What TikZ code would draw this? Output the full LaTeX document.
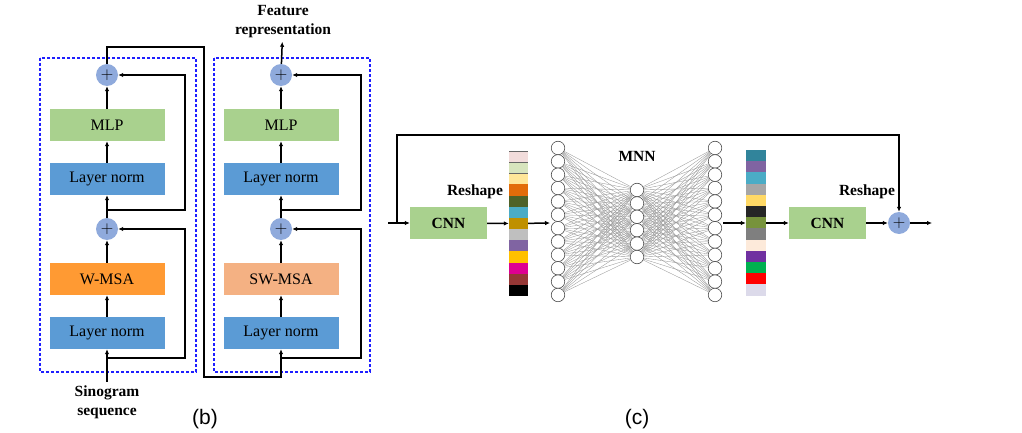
\documentclass[tikz,border=0pt]{standalone}
\usepackage{fontspec}
\setmainfont{Liberation Serif}
\newfontfamily\panelfont{Liberation Sans}
\usetikzlibrary{arrows.meta}

\definecolor{mlpgreen}{HTML}{A9D18E}
\definecolor{normblue}{HTML}{5B9BD5}
\definecolor{wmsaorange}{HTML}{FF9A33}
\definecolor{swmsapeach}{HTML}{F4B183}
\definecolor{plusblue}{HTML}{8FAADC}
\definecolor{winblue}{HTML}{1F1FFF}

\begin{document}
\begin{tikzpicture}
  [x=1pt,y=-1pt,
   box/.style={minimum width=115pt,minimum height=32pt,inner sep=0pt,
     font=\fontsize{16}{18}\selectfont},
   cnnbox/.style={fill=mlpgreen,minimum width=77pt,minimum height=32pt,inner sep=0pt,
     font=\bfseries\fontsize{15.5}{18}\selectfont},
   plus/.style={circle,fill=plusblue,minimum size=22pt,inner sep=0pt,
     font=\fontsize{16}{18}\selectfont},
   boldtext/.style={align=center,font=\bfseries\fontsize{15.5}{19}\selectfont},
   window/.style={draw=winblue,line width=1.8pt,dash pattern=on 3pt off 2pt},
   conn/.style={line width=1.5pt,-{Latex[length=5pt,width=4.5pt]}},
   neuron/.style={circle,draw=black!70,fill=white,minimum size=13.5pt,inner sep=0pt,line width=0.6pt},
   edge/.style={draw=black!40,line width=0.35pt},
   panel/.style={font=\panelfont\fontsize{21}{24}\selectfont}]

  \useasboundingbox (0,0) rectangle (1022,433);

  % (b) swin blocks
  \draw[window] (40,58) rectangle (196,372);
  \draw[window] (214,58) rectangle (370,372);

  \node [plus] (plusA) at (107,75) {$+$};
  \node [box,fill=mlpgreen] (mlpA) at (107,125) {MLP};
  \node [box,fill=normblue] (normA) at (107,179) {Layer norm};
  \node [plus] (plusB) at (107,229) {$+$};
  \node [box,fill=wmsaorange] (wmsa) at (107,279) {W-MSA};
  \node [box,fill=normblue] (normB) at (107,333) {Layer norm};

  \node [plus] (plusC) at (281,75) {$+$};
  \node [box,fill=mlpgreen] (mlpB) at (281,125) {MLP};
  \node [box,fill=normblue] (normC) at (281,179) {Layer norm};
  \node [plus] (plusD) at (281,229) {$+$};
  \node [box,fill=swmsapeach] (swmsa) at (281,279) {SW-MSA};
  \node [box,fill=normblue] (normD) at (281,333) {Layer norm};

  \node [boldtext] (sino) at (107,402) {Sinogram\\sequence};
  \node [boldtext] (feat) at (283,22) {Feature\\representation};

  \coordinate (skipA) at (107,358);
  \coordinate (skipB) at (107,210);
  \coordinate (skipC) at (281,358);
  \coordinate (skipD) at (281,210);
  \coordinate (turn) at (204,47);

  \draw[conn] (sino) -- (normB);
  \draw[conn] (normB) -- (wmsa);
  \draw[conn] (wmsa) -- (plusB);
  \draw[conn] (plusB) -- (normA);
  \draw[conn] (normA) -- (mlpA);
  \draw[conn] (mlpA) -- (plusA);
  \draw[conn] (skipA) -- (185,358) |- (plusB);
  \draw[conn] (skipB) -- (185,210) |- (plusA);

  \draw[conn] (plusA) |- (turn) -- (204,377) -| (normD);
  \draw[conn] (normD) -- (swmsa);
  \draw[conn] (swmsa) -- (plusD);
  \draw[conn] (plusD) -- (normC);
  \draw[conn] (normC) -- (mlpB);
  \draw[conn] (mlpB) -- (plusC);
  \draw[conn] (plusC) -- (feat);
  \draw[conn] (skipC) -- (361,358) |- (plusD);
  \draw[conn] (skipD) -- (361,210) |- (plusC);

  \node [panel] (labB) at (205,419) {(b)};

  % (c) CNN - MNN - CNN
  \coordinate (in) at (388,223);
  \coordinate (split) at (397,223);
  \node [cnnbox] (cnnA) at (448.5,223) {CNN};
  \node [cnnbox] (cnnB) at (827.5,223) {CNN};
  \node [plus] (plusE) at (899,223) {$+$};
  \coordinate (out) at (932,223);

  \node [minimum width=19pt,minimum height=145pt,inner sep=0pt] (barA) at (518.5,223.5) {};
  \node [minimum width=20pt,minimum height=146pt,inner sep=0pt] (barB) at (756,223) {};
  \foreach \h [count=\i from 0] in {F2DCDB,D7E4BD,FFE699,E36C0A,4F6228,4BACC6,BF9000,
      BFBFBF,8064A2,FFC000,DE0092,953735,000000} {
    \definecolor{cell}{HTML}{\h}
    \fill[cell] (509,151+\i*11.15) rectangle ++(19,11.15);
  }
  \foreach \h [count=\i from 0] in {31849B,8064A2,4BACC6,A6A6A6,FFD966,262626,77933C,
      7F7F7F,FDEADA,7030A0,00B050,FF0000,DCDAEA} {
    \definecolor{cell}{HTML}{\h}
    \fill[cell] (746,150+\i*11.2) rectangle ++(20,11.2);
  }
  \draw[black!60,line width=0.5pt] (509,151) -- (528,151) (509,162.15) -- (528,162.15)
    (509,173.3) -- (528,173.3);

  \foreach \i in {0,...,11}
    \node [neuron] (a\i) at (558,148+\i*13.36) {};
  \foreach \i in {0,...,5}
    \node [neuron] (b\i) at (637,190+\i*13.4) {};
  \foreach \i in {0,...,11}
    \node [neuron] (c\i) at (715,148+\i*13.36) {};
  \foreach \i in {0,...,11}
    \foreach \j in {0,...,5} {
      \draw[edge] (a\i) -- (b\j);
      \draw[edge] (b\j) -- (c\i);
    }
  \coordinate (mnnin) at (550,223);
  \coordinate (mnnout) at (723,223);

  \node [boldtext] (mnn) at (637,156) {MNN};
  \node [boldtext] (reshA) at (475,192) {Reshape};
  \node [boldtext] (reshB) at (867,192) {Reshape};

  \draw[conn] (in) -- (cnnA);
  \draw[conn] (split) -- (397,135) -| (plusE);
  \draw[conn] (cnnA) -- (barA);
  \draw[conn] (barA) -- (mnnin);
  \draw[conn] (mnnout) -- (barB);
  \draw[conn] (barB) -- (cnnB);
  \draw[conn] (cnnB) -- (plusE);
  \draw[conn] (plusE) -- (out);

  \node [panel] (labC) at (637,419) {(c)};
\end{tikzpicture}
\end{document}
